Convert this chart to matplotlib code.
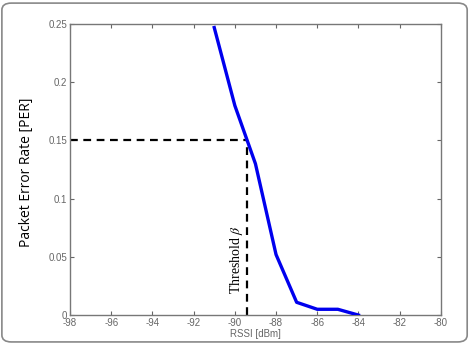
import matplotlib
matplotlib.use("Agg")
import matplotlib.pyplot as plt
from matplotlib.patches import FancyBboxPatch

# PER vs RSSI curve
rssi = [-91, -90, -89, -88, -87, -86, -85, -84]
per = [0.247, 0.18, 0.13, 0.052, 0.011, 0.005, 0.005, 0.0]

threshold_rssi = -89.4
threshold_per = 0.15

xticks = [-98, -96, -94, -92, -90, -88, -86, -84, -82, -80]
yticks = [0, 0.05, 0.1, 0.15, 0.2, 0.25]
ytick_labels = ["0", "0.05", "0.1", "0.15", "0.2", "0.25"]


def main():
    plt.rcParams["mathtext.fontset"] = "stix"
    plt.rcParams["axes.unicode_minus"] = False
    fig = plt.figure(figsize=(4.7, 3.44), dpi=100)

    # rounded border around the figure
    frame = FancyBboxPatch((0.004, 0.006), 0.99, 0.985,
                           boxstyle="round,pad=0,rounding_size=0.02",
                           transform=fig.transFigure, fill=False,
                           edgecolor="#888888", linewidth=1.2)
    fig.patches.append(frame)

    ax = fig.add_axes([0.149, 0.084, 0.789, 0.846])
    ax.plot(rssi, per, color="#0000ee", linewidth=2.4, zorder=3)

    ax.plot([-98, threshold_rssi], [threshold_per, threshold_per],
            color="black", linestyle=(0, (3.5, 2.5)), linewidth=1.6)
    ax.plot([threshold_rssi, threshold_rssi], [0, threshold_per],
            color="black", linestyle=(0, (3.5, 2.5)), linewidth=1.6)

    ax.text(threshold_rssi - 0.5, 0.048, r"Threshold $\beta$", rotation=90,
            family="Liberation Serif", fontsize=10, ha="center", va="center")

    ax.set_xlim(-98, -80)
    ax.set_ylim(0, 0.25)
    ax.set_xticks(xticks)
    ax.set_yticks(yticks)
    ax.set_yticklabels(ytick_labels)
    ax.tick_params(direction="in", top=True, right=True, length=3,
                   colors="#666666", labelsize=7, pad=2)
    for lab in ax.get_xticklabels() + ax.get_yticklabels():
        lab.set_family("Liberation Sans")
    for sp in ax.spines.values():
        sp.set_color("#777777")
        sp.set_linewidth(1.0)

    ax.set_xlabel("RSSI [dBm]", family="Liberation Sans", fontsize=7,
                  color="#666666", labelpad=1)
    fig.text(0.057, 0.5, "Packet Error Rate [PER]", rotation=90,
             family="Open Sans", fontsize=10, ha="center", va="center")

    fig.savefig("out.png", dpi=100)


if __name__ == "__main__":
    main()
